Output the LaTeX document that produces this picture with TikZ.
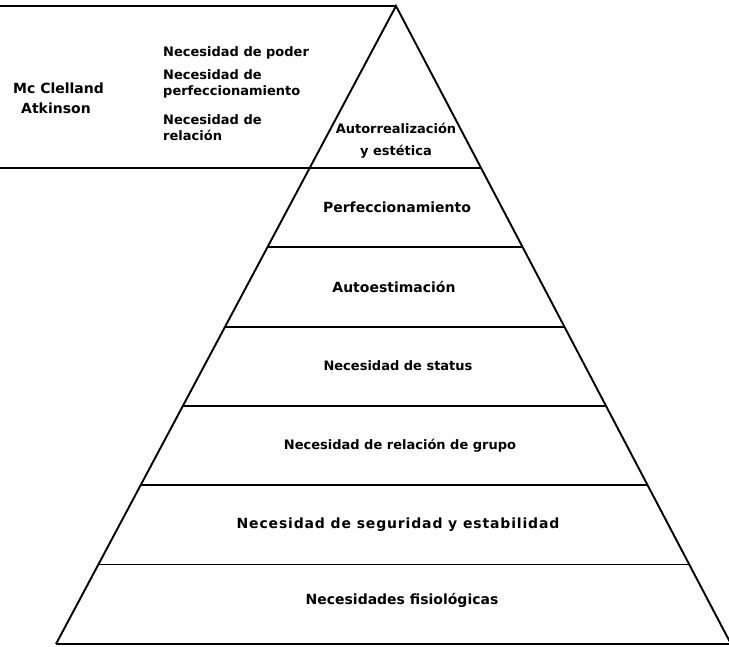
\documentclass[tikz,border=0pt]{standalone}
\usepackage{fontspec}
\usepackage{tikz}
\usetikzlibrary{calc}
\setmainfont{DejaVu Sans}

\tikzset{
  pyrline/.style={draw=black,line width=1.9pt},
  layertext/.style={font=\fontsize{14}{17}\selectfont\bfseries,inner sep=0pt},
  sidetext/.style={font=\fontsize{13}{16}\selectfont\bfseries,inner sep=0pt,anchor=west,align=left}
}

\begin{document}
\begin{tikzpicture}[x=1pt,y=1pt]
\useasboundingbox (0,0) rectangle (729,646);
% corners:
\coordinate (apex) at (396,640);
\coordinate (bl) at (56,2);
\coordinate (br) at (731,2);
\coordinate (topedge) at (0,640);
\coordinate (midedge) at (0,478);
% objects at depth 100:
\path[pyrline] (bl) -- (apex) -- (br);
\path[pyrline] (bl) -- (br);
\path[pyrline] (topedge) -- (apex);
\path[pyrline] (midedge) -- ($(apex)!0.254!(br)$);
\foreach \t in {0.3782,0.5025,0.6268,0.7511,0.8754}
  \path[pyrline] ($(apex)!\t!(bl)$) -- ($(apex)!\t!(br)$);
% objects at depth 50:
\node[sidetext,font=\fontsize{14}{17}\selectfont\bfseries] (mc) at (13,558) {Mc Clelland};
\node[sidetext,font=\fontsize{14}{17}\selectfont\bfseries] (atk) at (21,538) {Atkinson};
\node[sidetext] (poder) at (163,593) {Necesidad de poder};
\node[sidetext] (perf) at (163,562) {Necesidad de\\perfeccionamiento};
\node[sidetext] (rel) at (163,518) {Necesidad de\\relación};
\node[layertext,font=\fontsize{13}{22}\selectfont\bfseries,align=center] (autorr) at (396,505) {Autorrealización\\y estética};
\node[layertext] (perfec) at (397,439) {Perfeccionamiento};
\node[layertext] (autoest) at (394,359) {Autoestimación};
\node[layertext,font=\fontsize{13}{17}\selectfont\bfseries] (status) at (398,280) {Necesidad de status};
\node[layertext,font=\fontsize{13}{17}\selectfont\bfseries] (grupo) at (400,200) {Necesidad de relación de grupo};
\node[layertext,font=\fontsize{14}{17}\selectfont\bfseries\addfontfeature{LetterSpace=6}] (seg) at (398,121) {Necesidad de seguridad y estabilidad};
\node[layertext] (fisio) at (402,46) {Necesidades fisiológicas};
\end{tikzpicture}
\end{document}
